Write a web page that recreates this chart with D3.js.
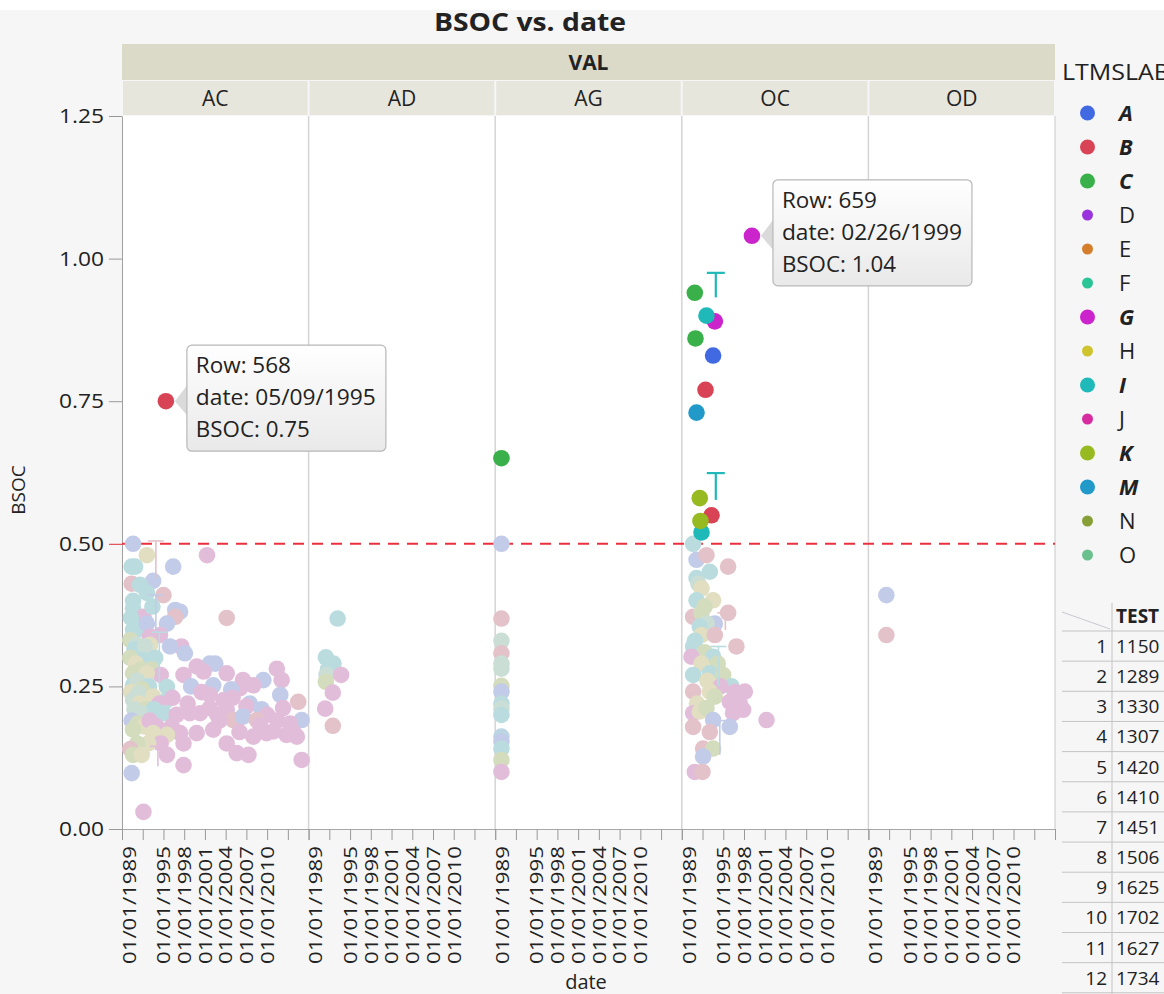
<!DOCTYPE html>
<html>
<head>
<meta charset="utf-8">
<script src="https://cdn.jsdelivr.net/npm/d3@7"></script>
<style>
  html, body { margin: 0; padding: 0; background: #f6f6f6; }
  svg { display: block; }
  text { font-family: "Open Sans", "Noto Sans", sans-serif; fill: #222; }
</style>
</head>
<body>
<svg id="chart" width="1164" height="994"></svg>
<script>
// ---- data -------------------------------------------------------------
const chartTitle = "BSOC vs. date";
const groupTitle = "VAL";
const panels = ["AC", "AD", "AG", "OC", "OD"];
const legendTitle = "LTMSLAB";
const legendKeys = ["A", "B", "C", "D", "E", "F", "G", "H", "I", "J", "K", "M", "N", "O"];
const legendColors = ["#4169e1", "#d84455", "#39b049", "#9a32de", "#d47e2c", "#2ac496", "#cc24cc",
                      "#cfc32e", "#1fb9b9", "#d62ca0", "#96ba20", "#2199c9", "#87a035", "#6cc08e"];
const legendEmphasis = ["A", "B", "C", "G", "I", "K", "M"];
const yTickValues = [0, 0.25, 0.5, 0.75, 1.0, 1.25];
const xTickYears = [1989, 1992, 1995, 1998, 2001, 2004, 2007, 2010, 2013, 2016];
const xLabelYears = [1989, 1995, 1998, 2001, 2004, 2007, 2010];
const referenceLevel = 0.5;

// [decimal year, BSOC, LTMSLAB] — unselected rows per VAL panel
const pointsAC = [
  [1990.6,0.50,"A"],[1992.6,0.48,"H"],[1996.4,0.46,"A"],[2001.3,0.48,"J"],[1990.4,0.46,"I"],[1990.9,0.46,"I"],
  [1993.5,0.435,"A"],[1990.4,0.43,"B"],[1991.6,0.428,"I"],[1992.6,0.414,"I"],[1995.0,0.41,"B"],[1990.6,0.40,"I"],
  [1990.6,0.387,"I"],[1996.7,0.384,"A"],[1997.4,0.381,"A"],[1996.7,0.372,"B"],[1992.1,0.372,"J"],[2004.15,0.37,"B"],
  [1995.5,0.36,"A"],[1990.6,0.349,"I"],[1991.5,0.35,"I"],[1992.6,0.36,"A"],[1990.3,0.37,"I"],[1993.4,0.39,"I"],
  [1994.5,0.34,"J"],[1990.2,0.331,"K"],[1991.1,0.323,"O"],[1993.05,0.337,"J"],[1993.05,0.323,"H"],[1997.6,0.32,"J"],
  [1995.95,0.32,"A"],[1998.1,0.308,"A"],[1990.8,0.315,"I"],[1992.3,0.32,"O"],[1990.6,0.302,"I"],[1992.1,0.296,"I"],
  [1993.8,0.30,"I"],[2001.7,0.29,"A"],[2002.5,0.29,"A"],[1999.8,0.285,"J"],[2000.8,0.276,"J"],[2004.15,0.273,"J"],
  [2006.5,0.261,"J"],[2011.4,0.281,"J"],[2012.1,0.261,"J"],[2009.45,0.261,"A"],[2008.0,0.252,"J"],
  [1990.2,0.30,"K"],[1991.0,0.29,"H"],[1991.8,0.28,"K"],[1993.3,0.28,"K"],[1994.6,0.27,"J"],
  [1990.6,0.273,"K"],[1992.6,0.273,"H"],[1997.9,0.27,"J"],[1990.6,0.252,"I"],[1992.4,0.26,"H"],[1991.2,0.26,"O"],
  [1995.5,0.249,"I"],[1992.9,0.25,"I"],[1991.9,0.245,"K"],[1990.3,0.24,"H"],[2002.2,0.252,"A"],[2006.1,0.247,"J"],
  [1999.0,0.25,"A"],[2000.5,0.24,"J"],[2004.8,0.245,"A"],[2005.0,0.23,"J"],
  [1991.4,0.238,"O"],[1993.5,0.232,"H"],[1995.5,0.226,"I"],[1990.6,0.226,"O"],[1996.3,0.23,"J"],[2001.7,0.235,"J"],
  [2003.7,0.226,"J"],[2007.5,0.22,"A"],[2011.9,0.235,"A"],[2014.5,0.223,"B"],[2012.3,0.212,"J"],[1994.4,0.22,"J"],
  [1991.5,0.22,"H"],[1990.8,0.21,"O"],[1992.5,0.21,"K"],[1993.6,0.21,"I"],[1998.5,0.22,"J"],[2007.0,0.215,"J"],
  [2009.2,0.21,"A"],[1991.6,0.203,"O"],[1995.0,0.203,"I"],[1998.8,0.203,"J"],[2000.3,0.203,"J"],[2001.7,0.212,"J"],
  [2004.15,0.209,"J"],[2002.8,0.20,"J"],[1996.9,0.20,"J"],[2010.0,0.20,"J"],[2005.1,0.191,"B"],[2006.5,0.197,"A"],
  [2008.5,0.191,"B"],[2009.0,0.182,"J"],[2015.0,0.191,"A"],[2013.3,0.185,"J"],[2011.5,0.19,"J"],[2003.1,0.19,"J"],
  [1990.4,0.19,"A"],[1991.3,0.185,"K"],[1992.2,0.18,"H"],[1993.0,0.19,"J"],[1994.0,0.18,"J"],[1996.2,0.18,"J"],
  [2014.3,0.162,"J"],[2010.9,0.171,"J"],[2008.0,0.162,"J"],[2002.2,0.174,"J"],[1999.8,0.168,"J"],[1997.4,0.168,"J"],
  [2006.0,0.17,"J"],[2013.8,0.17,"J"],[2009.9,0.168,"J"],[2012.8,0.165,"J"],
  [1995.5,0.165,"H"],[1990.6,0.174,"K"],[1993.5,0.168,"H"],[1994.6,0.15,"J"],[1992.8,0.15,"H"],[1991.2,0.15,"K"],
  [1990.2,0.14,"B"],[1997.9,0.15,"J"],[2004.15,0.15,"J"],[2005.6,0.133,"J"],[2007.3,0.13,"J"],[2015.0,0.121,"J"],
  [1990.6,0.13,"K"],[1991.85,0.13,"H"],[1995.5,0.13,"J"],[1997.9,0.112,"J"],[1990.4,0.098,"A"],[1992.1,0.03,"J"]
];
const pointsAD = [
  [1993.2,0.369,"I"],[1991.5,0.301,"I"],[1992.6,0.29,"I"],[1991.8,0.28,"I"],[1991.6,0.27,"O"],
  [1991.5,0.258,"K"],[1993.7,0.27,"J"],[1992.5,0.239,"J"],[1991.4,0.211,"J"],[1992.5,0.181,"B"]
];
const pointsAG = [
  [1989.9,0.50,"A"],[1989.9,0.369,"B"],[1989.9,0.33,"O"],[1989.9,0.308,"B"],[1989.9,0.29,"O"],[1989.9,0.281,"O"],
  [1989.9,0.251,"K"],[1989.9,0.241,"A"],[1989.9,0.22,"I"],[1989.9,0.211,"O"],[1989.9,0.20,"I"],[1989.9,0.162,"M"],
  [1989.9,0.153,"A"],[1989.9,0.141,"I"],[1989.9,0.121,"K"],[1989.9,0.10,"J"]
];
const pointsOC = [
  [1990.64,0.50,"I"],[1991.13,0.472,"A"],[1992.57,0.48,"B"],[1995.7,0.46,"B"],[1991.13,0.44,"I"],[1993.05,0.451,"I"],
  [1991.4,0.43,"O"],[1991.85,0.422,"H"],[1991.13,0.401,"I"],[1993.53,0.401,"H"],[1992.3,0.39,"K"],[1990.64,0.372,"B"],
  [1991.85,0.379,"K"],[1995.7,0.379,"B"],[1993.78,0.36,"A"],[1992.6,0.36,"O"],[1991.6,0.355,"I"],[1991.85,0.34,"H"],
  [1993.78,0.34,"B"],[1990.9,0.33,"I"],[1990.64,0.32,"I"],[1996.9,0.32,"B"],[1992.3,0.31,"K"],[1990.4,0.302,"J"],
  [1993.53,0.302,"I"],[1991.85,0.29,"H"],[1994.2,0.29,"K"],[1990.64,0.27,"I"],[1993.05,0.273,"I"],[1994.98,0.27,"K"],
  [1992.7,0.26,"H"],[1996.2,0.25,"I"],[1994.6,0.25,"J"],[1998.12,0.241,"J"],[1990.64,0.241,"B"],[1993.05,0.241,"H"],
  [1996.7,0.24,"J"],[1993.78,0.232,"K"],[1995.95,0.223,"J"],[1997.4,0.22,"J"],[1991.2,0.22,"H"],[1997.87,0.209,"J"],
  [1990.64,0.203,"J"],[1991.6,0.206,"H"],[1992.57,0.212,"K"],[1996.42,0.203,"J"],[2001.26,0.191,"J"],[1993.53,0.191,"A"],
  [1990.64,0.179,"B"],[1995.95,0.179,"A"],[1993.05,0.17,"B"],[1992.08,0.141,"B"],[1993.53,0.141,"K"],[1992.08,0.127,"A"],
  [1990.88,0.10,"J"],[1992.0,0.10,"B"]
];
const pointsOD = [[1991.6,0.41,"A"],[1991.6,0.34,"B"]];

// selected rows: [panel, decimal year, BSOC, LTMSLAB]
const selectedPoints = [
  ["AC",1995.35,0.75,"B"],
  ["AG",1989.9,0.65,"C"],
  ["OC",1999.15,1.04,"G"],["OC",1990.88,0.94,"C"],["OC",1993.78,0.89,"G"],["OC",1992.57,0.90,"I"],
  ["OC",1990.98,0.86,"C"],["OC",1993.53,0.83,"A"],["OC",1992.43,0.77,"B"],["OC",1991.13,0.73,"M"],
  ["OC",1991.6,0.58,"K"],["OC",1993.3,0.55,"B"],["OC",1991.85,0.52,"I"],["OC",1991.7,0.54,"K"]
];
// error bars: [panel, decimal year, low, high, LTMSLAB, selected]
const errorBars = [
  ["AC",1993.9,0.44,0.505,"B",false],["AC",1993.9,0.345,0.41,"A",false],["AC",1994.4,0.25,0.345,"I",false],
  ["AC",1994.2,0.11,0.145,"J",false],["OC",1995.3,0.349,0.379,"B",false],["OC",1994.5,0.13,0.19,"A",false],
  ["OC",1994.3,0.25,0.32,"I",false],
  ["OC",1993.92,0.932,0.975,"I",true],["OC",1993.92,0.577,0.624,"I",true]
];
const hoverLabels = [
  { panel: "AC", row: 568, date: "05/09/1995", year: 1995.35, value: 0.75 },
  { panel: "OC", row: 659, date: "02/26/1999", year: 1999.15, value: 1.04 }
];
const tableHeader = "TEST";
const tableRowNumbers = [1, 2, 3, 4, 5, 6, 7, 8, 9, 10, 11, 12];
const tableValues = ["1150", "1289", "1330", "1307", "1420", "1410", "1451", "1506", "1625", "1702", "1627", "1734"];

// ---- layout ------------------------------------------------------------
const svg = d3.select("#chart");
const W = 1164, H = 994;
const plot = { left: 122, right: 1055, top: 116, bottom: 829 };

const color = d3.scaleOrdinal().domain(legendKeys).range(legendColors);
const faded = k => d3.interpolateRgb(color(k), "#e6e6ea")(0.78);
const panelBand = d3.scaleBand().domain(panels).range([plot.left, plot.right]);
const xFor = p => d3.scaleLinear().domain([1989, 2016]).range([panelBand(p), panelBand(p) + panelBand.bandwidth()]);
const y = d3.scaleLinear().domain([0, 1.25]).range([plot.bottom, plot.top]);
const pointSets = { AC: pointsAC, AD: pointsAD, AG: pointsAG, OC: pointsOC, OD: pointsOD };

// background
svg.append("rect").attr("width", W).attr("height", H).attr("fill", "#f6f6f6");
svg.append("rect").attr("width", W).attr("height", 10).attr("fill", "#ffffff");

// title
svg.append("text").attr("x", 530).attr("y", 31).attr("text-anchor", "middle")
  .attr("font-size", 25).attr("font-weight", "bold").attr("fill", "#111")
  .attr("textLength", 192).attr("lengthAdjust", "spacingAndGlyphs").text(chartTitle);

// strips
svg.append("rect").attr("x", plot.left).attr("y", 44).attr("width", plot.right - plot.left).attr("height", 36)
  .attr("fill", "#dbd9c8");
svg.append("text").attr("x", (plot.left + plot.right) / 2).attr("y", 70).attr("text-anchor", "middle")
  .attr("font-size", 21).attr("font-weight", "bold").text(groupTitle);
panels.forEach(p => {
  svg.append("rect").attr("x", panelBand(p) + 1).attr("y", 81).attr("width", panelBand.bandwidth() - 2)
    .attr("height", 34).attr("fill", "#e7e6dc");
  svg.append("text").attr("x", panelBand(p) + panelBand.bandwidth() / 2).attr("y", 106)
    .attr("text-anchor", "middle").attr("font-size", 21).text(p);
});

// plot frame
svg.append("rect").attr("x", plot.left).attr("y", plot.top).attr("width", plot.right - plot.left)
  .attr("height", plot.bottom - plot.top).attr("fill", "#ffffff");
panels.slice(1).forEach(p => {
  svg.append("line").attr("x1", panelBand(p)).attr("x2", panelBand(p)).attr("y1", plot.top).attr("y2", plot.bottom)
    .attr("stroke", "#d4d4d4").attr("stroke-width", 1.5);
});
svg.append("line").attr("x1", plot.right).attr("x2", plot.right).attr("y1", plot.top).attr("y2", plot.bottom)
  .attr("stroke", "#c8c8c8");

// y axis
const yAxis = svg.append("g").attr("transform", `translate(${plot.left},0)`)
  .call(d3.axisLeft(y).tickValues(yTickValues).tickFormat(d3.format(".2f")).tickSize(13).tickSizeOuter(0).tickPadding(5));
yAxis.select(".domain").attr("stroke", "#a0a0a0");
yAxis.selectAll(".tick line").attr("stroke", d => d === referenceLevel ? "#e0303a" : "#999");
yAxis.selectAll(".tick text").attr("font-size", 20).attr("font-family", "Open Sans, sans-serif").attr("fill", "#222")
  .attr("textLength", 45).attr("lengthAdjust", "spacingAndGlyphs");
svg.append("text").attr("transform", "translate(25,490) rotate(-90)").attr("text-anchor", "middle")
  .attr("font-size", 19).text("BSOC");

// x axes, one per panel
panels.forEach(p => {
  const x = xFor(p);
  const g = svg.append("g").attr("transform", `translate(0,${plot.bottom})`)
    .call(d3.axisBottom(x).tickValues(xTickYears).tickSize(11).tickSizeOuter(0)
      .tickFormat(d => xLabelYears.includes(d) ? `01/01/${d}` : ""));
  g.select(".domain").attr("stroke", "#a8a8a8");
  g.selectAll(".tick line").attr("stroke", "#999");
  g.selectAll(".tick text")
    .attr("transform", "rotate(-90)").attr("text-anchor", "end")
    .attr("x", -17).attr("y", d => d === xTickYears[0] ? 7 : 0).attr("dy", "0.35em")
    .attr("font-size", 18).attr("font-family", "Open Sans, sans-serif").attr("fill", "#222")
    .filter(d => xLabelYears.includes(d))
    .attr("textLength", 118).attr("lengthAdjust", "spacingAndGlyphs");
});
svg.append("text").attr("x", 586).attr("y", 989).attr("text-anchor", "middle").attr("font-size", 20).text("date");

// reference line
svg.append("line").attr("x1", plot.left).attr("x2", plot.right).attr("y1", y(referenceLevel)).attr("y2", y(referenceLevel))
  .attr("stroke", "#ec2f3d").attr("stroke-width", 2).attr("stroke-dasharray", "11,8");

// unselected points
const R = 8.3;
panels.forEach(p => {
  const x = xFor(p);
  svg.append("g").selectAll("circle").data(pointSets[p]).join("circle")
    .attr("cx", d => x(d[0])).attr("cy", d => y(d[1])).attr("r", R).attr("fill", d => faded(d[2]));
});

// error bars
svg.append("g").selectAll("g").data(errorBars).join("g").each(function (d) {
  const g = d3.select(this), x = xFor(d[0]);
  const cx = x(d[1]), stroke = d[5] ? color(d[4]) : faded(d[4]);
  const w = d[5] ? 2.2 : 1.6, cap = d[5] ? 9 : 8;
  g.append("line").attr("x1", cx).attr("x2", cx).attr("y1", y(d[2])).attr("y2", y(d[3]))
    .attr("stroke", stroke).attr("stroke-width", w);
  g.append("line").attr("x1", cx - cap).attr("x2", cx + cap).attr("y1", y(d[3])).attr("y2", y(d[3]))
    .attr("stroke", stroke).attr("stroke-width", w);
});

// selected points
svg.append("g").selectAll("circle").data(selectedPoints).join("circle")
  .attr("cx", d => xFor(d[0])(d[1])).attr("cy", d => y(d[2])).attr("r", R).attr("fill", d => color(d[3]));

// hover labels
const defs = svg.append("defs");
const grad = defs.append("linearGradient").attr("id", "tipFill").attr("x1", 0).attr("x2", 0).attr("y1", 0).attr("y2", 1);
grad.append("stop").attr("offset", "0%").attr("stop-color", "#ffffff");
grad.append("stop").attr("offset", "100%").attr("stop-color", "#e9e9e9");
const tipWidths = [95, 180, 114];
hoverLabels.forEach(t => {
  const px = xFor(t.panel)(t.year), py = y(t.value);
  const bx = px + 21, by = py - 56;
  svg.append("path")
    .attr("d", `M${px + 9},${py} L${bx + 1},${py - 17} L${bx + 1},${py + 15} Z`).attr("fill", "#dadada");
  svg.append("rect").attr("x", bx).attr("y", by).attr("width", 199).attr("height", 106).attr("rx", 5)
    .attr("fill", "url(#tipFill)").attr("stroke", "#b8b8b8").attr("stroke-width", 1.2);
  const lines = [`Row: ${t.row}`, `date: ${t.date}`, `BSOC: ${d3.format(".2f")(t.value)}`];
  lines.forEach((s, i) => {
    svg.append("text").attr("x", bx + 9).attr("y", by + 28 + i * 32).attr("font-size", 21).attr("fill", "#333")
      .attr("textLength", tipWidths[i]).attr("lengthAdjust", "spacingAndGlyphs").text(s);
  });
});

// legend
svg.append("text").attr("x", 1062).attr("y", 80).attr("font-size", 22)
  .attr("textLength", 108).attr("lengthAdjust", "spacingAndGlyphs").text(legendTitle);
legendKeys.forEach((k, i) => {
  const cy = 113 + i * 34.0;
  const strong = legendEmphasis.includes(k);
  svg.append("circle").attr("cx", 1087.5).attr("cy", cy).attr("r", strong ? 7.5 : 5.5).attr("fill", color(k));
  svg.append("text").attr("x", 1119).attr("y", cy + 8).attr("font-size", 22)
    .attr("font-weight", strong ? "bold" : "normal").attr("font-style", strong ? "italic" : "normal")
    .attr("fill", "#111").text(k);
});

// data table
const tbl = svg.append("g");
const rowH = 30.15, firstLine = 631;
tbl.append("line").attr("x1", 1062).attr("y1", 612).attr("x2", 1110).attr("y2", 629).attr("stroke", "#c8c8d0");
tbl.append("line").attr("x1", 1112).attr("x2", 1112).attr("y1", 603).attr("y2", H).attr("stroke", "#c4c4c4");
tbl.append("text").attr("x", 1116).attr("y", 623).attr("font-size", 19).attr("font-weight", "bold").text(tableHeader);
tableRowNumbers.forEach((r, i) => {
  const top = firstLine + i * rowH;
  tbl.append("line").attr("x1", 1062).attr("x2", W).attr("y1", top).attr("y2", top).attr("stroke", "#c4c4c4");
  tbl.append("text").attr("x", 1107).attr("y", top + 22).attr("text-anchor", "end").attr("font-size", 19).text(r);
  tbl.append("text").attr("x", 1116).attr("y", top + 22).attr("font-size", 19).text(tableValues[i]);
});
tbl.append("line").attr("x1", 1062).attr("x2", W).attr("y1", firstLine + 12 * rowH).attr("y2", firstLine + 12 * rowH)
  .attr("stroke", "#c4c4c4");
</script>
</body>
</html>
